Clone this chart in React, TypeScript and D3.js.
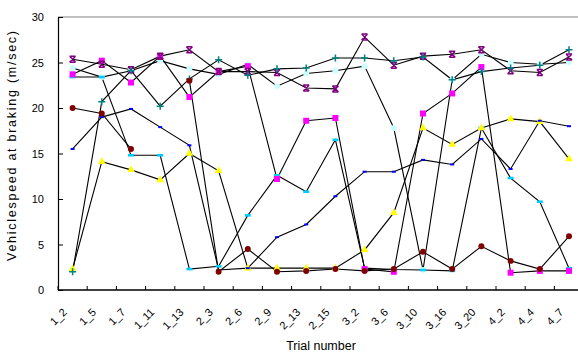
import React, { useRef, useEffect } from 'react';
import * as d3 from 'd3';

// Trial labels along the category axis
const trials = ['1_2', '1_5', '1_7', '1_11', '1_13', '2_3', '2_6', '2_9', '2_13', '2_15', '3_2', '3_6', '3_10', '3_16', '3_20', '4_2', '4_4', '4_7'];
const speedTicks = [0, 5, 10, 15, 20, 25, 30];

// Vehicle speed at braking (m/sec), one array per subject
const magentaSquares = [23.7, 25.2, 22.8, 25.7, 21.2, 24.0, 24.6, 12.2, 18.6, 18.9, 2.3, 2.0, 19.4, 21.6, 24.5, 1.9, 2.1, 2.1];
const yellowTriangles = [2.3, 14.1, 13.2, 12.1, 15.0, 13.1, 2.4, 2.4, 2.4, 2.4, 4.4, 8.5, 17.8, 16.0, 17.8, 18.8, 18.5, 14.4];
const purpleStars = [25.35, 24.8, 24.2, 25.7, 26.4, 24.0, 24.0, 23.9, 22.2, 22.1, 27.8, 24.7, 25.7, 25.9, 26.4, 24.1, 23.9, 25.6];
const maroonCircles = [20.0, 19.4, 15.5, null, 23.0, 2.0, 4.5, 2.0, 2.1, 2.3, 2.1, 2.3, 4.2, 2.3, 4.8, 3.2, 2.3, 5.9];
const tealPlus = [2.0, 20.7, 24.1, 20.2, 23.2, 25.3, 23.6, 24.3, 24.4, 25.5, 25.5, 25.2, 25.6, 23.1, 24.0, 24.4, 24.7, 26.4];
const blueDash = [15.5, 19.0, 19.9, 17.9, 15.9, 2.2, 2.4, 5.8, 7.2, 10.3, 13.0, 13.0, 14.3, 13.8, 16.6, 13.3, 18.6, 18.0];
const skyDash = [23.4, 23.4, 14.8, 14.8, 2.3, 2.6, 8.2, 12.6, 10.8, 16.5, 2.4, 2.25, 2.2, 2.1, 17.8, 12.3, 9.7, 2.4];
const paleCircles = [24.4, 23.4, 24.1, 25.2, 24.3, 23.7, 24.8, 22.4, 23.8, 24.1, 24.6, 17.8, 2.2, 23.1, 25.9, 25.0, 24.8, 25.0];

type Marker = 'square' | 'triangle' | 'star' | 'circle' | 'plus' | 'dash' | 'longdash';

interface Series {
  values: (number | null)[];
  color: string;
  marker: Marker;
}

const series: Series[] = [
  { values: paleCircles, color: '#ccffff', marker: 'circle' },
  { values: skyDash, color: '#00ccff', marker: 'longdash' },
  { values: magentaSquares, color: '#ff00ff', marker: 'square' },
  { values: yellowTriangles, color: '#ffff00', marker: 'triangle' },
  { values: purpleStars, color: '#800080', marker: 'star' },
  { values: tealPlus, color: '#008080', marker: 'plus' },
  { values: blueDash, color: '#0000ff', marker: 'dash' },
  { values: maroonCircles, color: '#800000', marker: 'circle' }
];

const FONT = 'Liberation Sans, Arial, sans-serif';

export default function App() {
  const svgRef = useRef<SVGSVGElement>(null);

  useEffect(() => {
    document.body.style.margin = '0';
    const width = 578;
    const height = 356;
    const margin = { top: 17, left: 58, bottom: 66 };
    const plotRight = 583.6; // the chart is cut off by the right edge

    const svg = d3.select(svgRef.current);
    svg.selectAll('*').remove();
    svg.attr('width', width).attr('height', height);

    const x = d3.scaleBand<string>()
      .domain(trials)
      .range([margin.left, plotRight])
      .padding(0);

    const y = d3.scaleLinear()
      .domain([0, 30])
      .range([height - margin.bottom, margin.top]);

    const cx = (i: number) => (x(trials[i]) as number) + x.bandwidth() / 2;

    // plot area border (only top shows)
    svg.append('line')
      .attr('x1', margin.left).attr('x2', plotRight)
      .attr('y1', y(30)).attr('y2', y(30))
      .attr('stroke', '#c0c0c0')
      .attr('stroke-width', 2);

    // Y axis
    const yAxis = d3.axisLeft(y)
      .tickValues(speedTicks)
      .tickSizeInner(-5)
      .tickSizeOuter(0)
      .tickPadding(14);

    const yg = svg.append('g')
      .attr('transform', `translate(${margin.left},0)`)
      .call(yAxis);
    yg.select('.domain').attr('stroke', '#000').attr('stroke-width', 1.2);
    yg.selectAll('.tick line').attr('stroke', '#000');
    yg.selectAll('.tick text')
      .attr('font-family', FONT)
      .attr('font-size', 11)
      .attr('fill', '#000');

    // X axis with ticks between categories
    const x0 = y(0);
    svg.append('line')
      .attr('x1', margin.left).attr('x2', plotRight)
      .attr('y1', x0).attr('y2', x0)
      .attr('stroke', '#000')
      .attr('stroke-width', 1.5);

    svg.append('g')
      .selectAll('line')
      .data(d3.range(trials.length + 1))
      .enter()
      .append('line')
      .attr('x1', d => margin.left + d * x.step())
      .attr('x2', d => margin.left + d * x.step())
      .attr('y1', x0)
      .attr('y2', x0 - 4)
      .attr('stroke', '#000');

    svg.append('g')
      .selectAll('text')
      .data(trials)
      .enter()
      .append('text')
      .attr('transform', (d, i) => `translate(${cx(i) - 5},${x0 + 23}) rotate(-45)`)
      .attr('text-anchor', 'end')
      .attr('font-family', FONT)
      .attr('font-size', 11)
      .text(d => d);

    // Axis titles
    svg.append('text')
      .attr('x', 321)
      .attr('y', 350)
      .attr('text-anchor', 'middle')
      .attr('font-family', FONT)
      .attr('font-size', 12.5)
      .text('Trial number');

    svg.append('text')
      .attr('transform', `translate(16,146) rotate(-90)`)
      .attr('text-anchor', 'middle')
      .attr('font-family', FONT)
      .attr('font-size', 12.5)
      .attr('textLength', 230)
      .attr('lengthAdjust', 'spacing')
      .text('Vehiclespeed at braking (m/sec)');

    // Lines
    const line = d3.line<number | null>()
      .defined(d => d !== null)
      .x((d, i) => cx(i))
      .y(d => y(d as number));

    series.forEach(s => {
      svg.append('path')
        .datum(s.values)
        .attr('d', line)
        .attr('fill', 'none')
        .attr('stroke', '#000')
        .attr('stroke-width', 1.1);
    });

    // Markers
    const symbolPath = (m: Marker) => {
      switch (m) {
        case 'square': return d3.symbol(d3.symbolSquare, 36)();
        case 'triangle': return d3.symbol(d3.symbolTriangle, 26)();
        case 'circle': return d3.symbol(d3.symbolCircle, 28)();
        case 'star': return 'M-3,-3L3,3M-3,3L3,-3M-3,-3L3,-3M-3,3L3,3';
        case 'plus': return 'M-3.5,0L3.5,0M0,-3.5L0,3.5';
        case 'dash': return 'M-2,-1H2V1H-2Z';
        case 'longdash': return 'M-3,-1.3H3V1.3H-3Z';
      }
    };

    series.forEach(s => {
      const pts = s.values
        .map((v, i) => ({ v, i }))
        .filter(p => p.v !== null);
      const stroked = s.marker === 'star' || s.marker === 'plus';
      svg.append('g')
        .selectAll('path')
        .data(pts)
        .enter()
        .append('path')
        .attr('transform', p => `translate(${cx(p.i)},${y(p.v as number)})`)
        .attr('d', symbolPath(s.marker) as string)
        .attr('fill', stroked ? 'none' : s.color)
        .attr('stroke', stroked ? s.color : 'none')
        .attr('stroke-width', stroked ? 1.5 : 0);
    });
  }, []);

  return (
    <div>
      <svg ref={svgRef} style={{ display: 'block' }} />
    </div>
  );
}
